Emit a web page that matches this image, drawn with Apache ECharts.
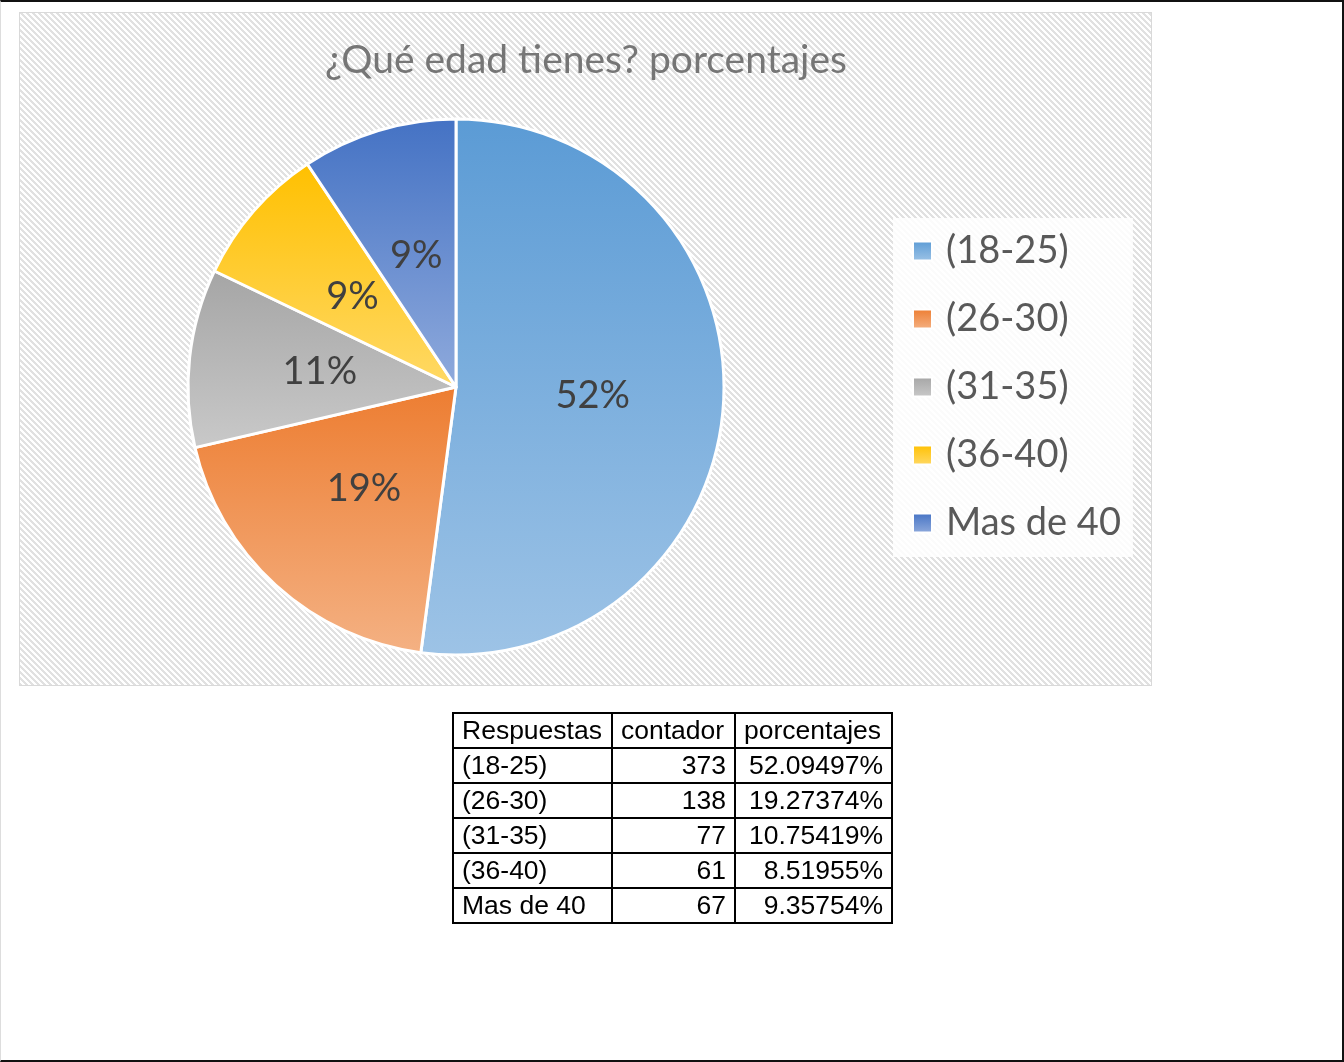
<!DOCTYPE html>
<html>
<head>
<meta charset="utf-8">
<script src="https://cdn.jsdelivr.net/npm/echarts@6/dist/echarts.min.js"></script>
<style>
html,body{margin:0;padding:0;background:#fff;}
#page{position:relative;width:1344px;height:1062px;overflow:hidden;background:#fff;}
#frame{position:absolute;left:0;top:0;width:1344px;height:1062px;box-sizing:border-box;border-top:2px solid #111;border-right:2px solid #111;border-bottom:2px solid #111;border-left:1px solid #ddd;pointer-events:none;}
#area{position:absolute;left:19px;top:12px;width:1131px;height:672px;border:1px solid #d9d9d9;}
#chart{position:absolute;left:0;top:0;width:1344px;height:1062px;}
#tbl{position:absolute;left:452px;top:712px;border-collapse:collapse;font-family:"Liberation Sans",Arial,sans-serif;font-size:26.5px;color:#000;}
#tbl td{border:2px solid #000;padding:0 8px;height:33px;line-height:31px;white-space:nowrap;}
#tbl td.n{text-align:right;}
</style>
</head>
<body>
<div id="page">
  <div id="area"></div>
  <div id="chart"></div>
  <table id="tbl"></table>
  <div id="frame"></div>
</div>
<script>
var title = '¿Qué edad tienes? porcentajes';
var categories = ['(18-25)', '(26-30)', '(31-35)', '(36-40)', 'Mas de 40'];
var counts = [373, 138, 77, 61, 67];
var percentLabels = ['52.09497%', '19.27374%', '10.75419%', '8.51955%', '9.35754%'];
var tableHeader = ['Respuestas', 'contador', 'porcentajes'];
var gradTop = ['#5b9bd5', '#ed7d31', '#a5a5a5', '#ffc000', '#4472c4'];
var gradBottom = ['#9dc3e6', '#f4b183', '#c9c9c9', '#ffd966', '#8faadc'];

// hatch pattern background
(function(){
  var P = 6;
  var c = document.createElement('canvas'); c.width = P; c.height = P;
  var g = c.getContext('2d');
  g.fillStyle = '#ffffff'; g.fillRect(0,0,P,P);
  g.fillStyle = '#e1e1e1';
  for (var y = 0; y < P; y++) for (var x = 0; x < P; x++) {
    var m = ((x - y) % P + P) % P;
    if (m < 3) g.fillRect(x, y, 1, 1);
  }
  document.getElementById('area').style.backgroundImage = 'url(' + c.toDataURL() + ')';
})();

// table
(function(){
  var t = document.getElementById('tbl');
  var html = '<tr>' + tableHeader.map(function(h){return '<td>' + h + '</td>';}).join('') + '</tr>';
  for (var i = 0; i < categories.length; i++) {
    html += '<tr><td>' + categories[i] + '</td><td class="n">' + counts[i] + '</td><td class="n">' + percentLabels[i] + '</td></tr>';
  }
  t.innerHTML = html;
  var cols = [159, 123, 157];
  var r0 = t.rows[0];
  for (var j = 0; j < 3; j++) r0.cells[j].style.width = (cols[j] - 18) + 'px';
})();

var chart = echarts.init(document.getElementById('chart'), null, {renderer: 'canvas'});
var data = categories.map(function(name, i){
  return {
    name: name,
    value: counts[i],
    itemStyle: {
      color: new echarts.graphic.LinearGradient(0, 0, 0, 1, [
        {offset: 0, color: gradTop[i]},
        {offset: 1, color: gradBottom[i]}
      ])
    }
  };
});
chart.setOption({
  animation: false,
  backgroundColor: 'transparent',
  title: {
    text: title,
    left: 581, top: 36, textAlign: 'center',
    textStyle: {fontFamily: 'Lato', fontWeight: 'normal', fontSize: 39, color: '#767676'}
  },
  legend: {
    orient: 'vertical',
    left: 893, top: 218,
    padding: [13, 12, 14, 19],
    backgroundColor: 'rgba(255,255,255,0.85)',
    itemWidth: 19, itemHeight: 19, itemGap: 28,
    icon: 'rect',
    textStyle: {fontFamily: 'Lato', fontSize: 38, color: '#595959', lineHeight: 40, padding: [0,0,0,9]},
    data: categories
  },
  series: [{
    type: 'pie',
    center: [456, 387],
    radius: [0, 268],
    startAngle: 90,
    clockwise: true,
    percentPrecision: 0,
    avoidLabelOverlap: false,
    silent: true,
    itemStyle: {borderColor: '#ffffff', borderWidth: 3},
    label: {
      show: true, position: 'inside', formatter: '{d}%',
      fontFamily: 'Lato', fontSize: 38, color: '#404040',
      padding: [6, 0, 0, 0]
    },
    labelLine: {show: false},
    emphasis: {disabled: true},
    data: data
  }]
});
</script>
</body>
</html>
